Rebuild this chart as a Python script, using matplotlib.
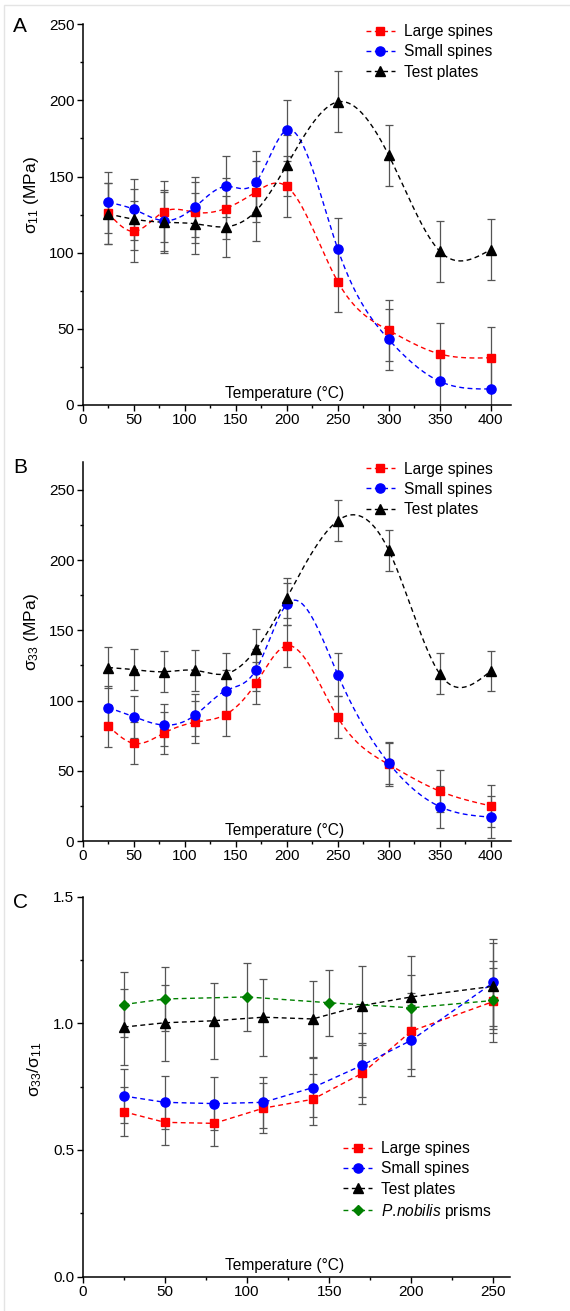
import numpy as np
import matplotlib
matplotlib.use('Agg')
import matplotlib.pyplot as plt
from matplotlib.ticker import MultipleLocator, FormatStrFormatter
from matplotlib.patches import Rectangle

plt.rcParams['font.family'] = ['Liberation Sans', 'DejaVu Sans']
plt.rcParams['mathtext.fontset'] = 'custom'
plt.rcParams['mathtext.rm'] = 'Liberation Sans'
plt.rcParams['mathtext.it'] = 'Liberation Sans:italic'

# ---- data ----
T = [25, 50, 80, 110, 140, 170, 200, 250, 300, 350, 400]

s11_large = [126, 114, 127, 126.5, 129, 140, 143.5, 81, 49, 33.5, 31]
s11_small = [133, 128.5, 121, 130, 143.5, 146.5, 180.5, 102.5, 43, 15.5, 10.5]
s11_plate = [125.5, 122, 120, 119, 117, 127.5, 157.5, 199, 164, 101, 102]
s11_large_err = [20, 20, 20, 20, 20, 20, 20, 20, 20, 20, 20]
s11_small_err = [20, 20, 20, 20, 20, 20, 20, 20, 20, 20, 20]
s11_plate_err = [20, 20, 20, 20, 20, 20, 20, 20, 20, 20, 20]

s33_large = [82, 69.5, 77, 84.5, 90, 112.5, 139, 88, 54.5, 35.5, 25]
s33_small = [95, 88.5, 82.5, 89.5, 107, 122, 168.5, 118.5, 55.5, 24.5, 17]
s33_plate = [123.5, 122, 120.5, 121.5, 119, 136.5, 173, 228, 207, 119, 121]
s33_large_err = [15, 15, 15, 15, 15, 15, 15, 15, 15, 15, 15]
s33_small_err = [15, 15, 15, 15, 15, 15, 15, 15, 15, 15, 15]
s33_plate_err = [14.5, 14.5, 14.5, 14.5, 14.5, 14.5, 14.5, 14.5, 14.5, 14.5, 14.5]

Tc = [25, 50, 80, 110, 140, 170, 200, 250]
r_large = [0.651, 0.609, 0.605, 0.665, 0.700, 0.802, 0.969, 1.086]
r_small = [0.713, 0.688, 0.683, 0.688, 0.746, 0.834, 0.933, 1.161]
r_plate = [0.985, 1.002, 1.010, 1.024, 1.017, 1.070, 1.104, 1.146]
r_large_err = [0.097, 0.09, 0.09, 0.10, 0.10, 0.12, 0.15, 0.16]
r_small_err = [0.108, 0.105, 0.105, 0.10, 0.115, 0.126, 0.14, 0.17]
r_plate_err = [0.15, 0.15, 0.15, 0.152, 0.15, 0.155, 0.16, 0.17]
Tp = [25, 50, 100, 150, 200, 250]
r_prism = [1.074, 1.096, 1.104, 1.081, 1.061, 1.090]
r_prism_err = [0.13, 0.125, 0.133, 0.13, 0.13, 0.13]

labels = ['Large spines', 'Small spines', 'Test plates', '$\\mathit{P.\\!nobilis}$ prisms']
colors = ['#ff0000', '#0000ff', '#000000', '#008000']
markers = ['s', 'o', '^', 'D']
msizes = [6, 6.6, 7.5, 5.2]


def natural_spline(x, y, n=300):
    x = np.asarray(x, float)
    y = np.asarray(y, float)
    k = len(x)
    h = np.diff(x)
    A = np.zeros((k, k))
    b = np.zeros(k)
    A[0, 0] = 1
    A[-1, -1] = 1
    for i in range(1, k - 1):
        A[i, i - 1] = h[i - 1]
        A[i, i] = 2 * (h[i - 1] + h[i])
        A[i, i + 1] = h[i]
        b[i] = 3 * ((y[i + 1] - y[i]) / h[i] - (y[i] - y[i - 1]) / h[i - 1])
    c = np.linalg.solve(A, b)
    xs = np.linspace(x[0], x[-1], n)
    idx = np.clip(np.searchsorted(x, xs) - 1, 0, k - 2)
    dx = xs - x[idx]
    bb = (y[idx + 1] - y[idx]) / h[idx] - h[idx] * (2 * c[idx] + c[idx + 1]) / 3
    dd = (c[idx + 1] - c[idx]) / (3 * h[idx])
    ys = y[idx] + bb * dx + c[idx] * dx ** 2 + dd * dx ** 3
    return xs, ys


def style(ax, xmax, ymax, xmaj, ymaj, ymin):
    ax.set_xlim(0, xmax)
    ax.set_ylim(0, ymax)
    for s in ['top', 'right']:
        ax.spines[s].set_visible(False)
    for s in ['left', 'bottom']:
        ax.spines[s].set_linewidth(1.1)
    ax.xaxis.set_major_locator(MultipleLocator(xmaj))
    ax.xaxis.set_minor_locator(MultipleLocator(25))
    ax.yaxis.set_major_locator(MultipleLocator(ymaj))
    ax.yaxis.set_minor_locator(MultipleLocator(ymin))
    ax.tick_params(which='major', direction='out', length=4, width=1, labelsize=11, pad=2)
    ax.tick_params(which='minor', direction='out', length=2.5, width=1)
    ax.text(0.472, 0.029, 'Temperature (°C)', transform=ax.transAxes,
            ha='center', va='center', fontsize=11.2)


def draw(ax, x, ys, errs, idxs, smooth):
    for y, e, i in zip(ys, errs, idxs):
        ax.errorbar(x, y, yerr=e, fmt='none', ecolor='#555555', elinewidth=0.9,
                    capsize=2.8, capthick=0.9, zorder=2)
        if smooth:
            xs, yy = natural_spline(x, y)
        else:
            xs, yy = x, y
        ax.plot(xs, yy, color=colors[i], lw=1.0, dashes=(3.5, 2.5), zorder=3)
        ax.plot(x, y, linestyle='none', marker=markers[i], ms=msizes[i],
                color=colors[i], zorder=4)
        ax.plot([], [], color=colors[i], lw=1.0, dashes=(3.5, 2.5),
                marker=markers[i], ms=msizes[i], label=labels[i])


fig = plt.figure(figsize=(5.7, 13.11), dpi=100)
fig.patches.append(Rectangle((4 / 570, -0.1), 1.2, (1311 - 5) / 1311 + 0.1,
                             transform=fig.transFigure, fill=False,
                             edgecolor='#e4e4e4', lw=1))

axA = fig.add_axes([0.1451, 0.6911, 0.7516, 0.2904])
axB = fig.add_axes([0.1451, 0.3585, 0.7516, 0.2893])
axC = fig.add_axes([0.1451, 0.0262, 0.7494, 0.2899])

style(axA, 420, 250, 50, 50, 25)
draw(axA, T, [s11_large, s11_small, s11_plate],
     [s11_large_err, s11_small_err, s11_plate_err], [0, 1, 2], True)
axA.set_ylabel('σ$_{11}$ (MPa)', fontsize=12.5)
axA.yaxis.set_label_coords(-0.098, 0.552)

style(axB, 420, 270, 50, 50, 25)
draw(axB, T, [s33_large, s33_small, s33_plate],
     [s33_large_err, s33_small_err, s33_plate_err], [0, 1, 2], True)
axB.set_ylabel('σ$_{33}$ (MPa)', fontsize=12.5)
axB.yaxis.set_label_coords(-0.098, 0.55)

style(axC, 260, 1.5, 50, 0.5, 0.25)
axC.yaxis.set_major_formatter(FormatStrFormatter('%.1f'))
draw(axC, Tc, [r_large, r_small, r_plate],
     [r_large_err, r_small_err, r_plate_err], [0, 1, 2], False)
draw(axC, Tp, [r_prism], [r_prism_err], [3], False)
axC.set_ylabel('σ$_{33}$/σ$_{11}$', fontsize=12.5)
axC.yaxis.set_label_coords(-0.09, 0.547)

leg_kw = dict(frameon=False, fontsize=11.2, handlelength=1.85, handletextpad=0.6,
              labelspacing=0.33, borderpad=0, borderaxespad=0, loc='upper left')
axA.legend(bbox_to_anchor=(0.661, 1.0), **leg_kw)
axB.legend(bbox_to_anchor=(0.661, 1.0), **leg_kw)
axC.legend(bbox_to_anchor=(0.61, 0.356), **leg_kw)

fig.text(20 / 570, 1 - 27 / 1311, 'A', fontsize=15, ha='center', va='center')
fig.text(20 / 570, 1 - 467 / 1311, 'B', fontsize=15, ha='center', va='center')
fig.text(20 / 570, 1 - 903 / 1311, 'C', fontsize=15, ha='center', va='center')

fig.savefig('out.png', dpi=100)
